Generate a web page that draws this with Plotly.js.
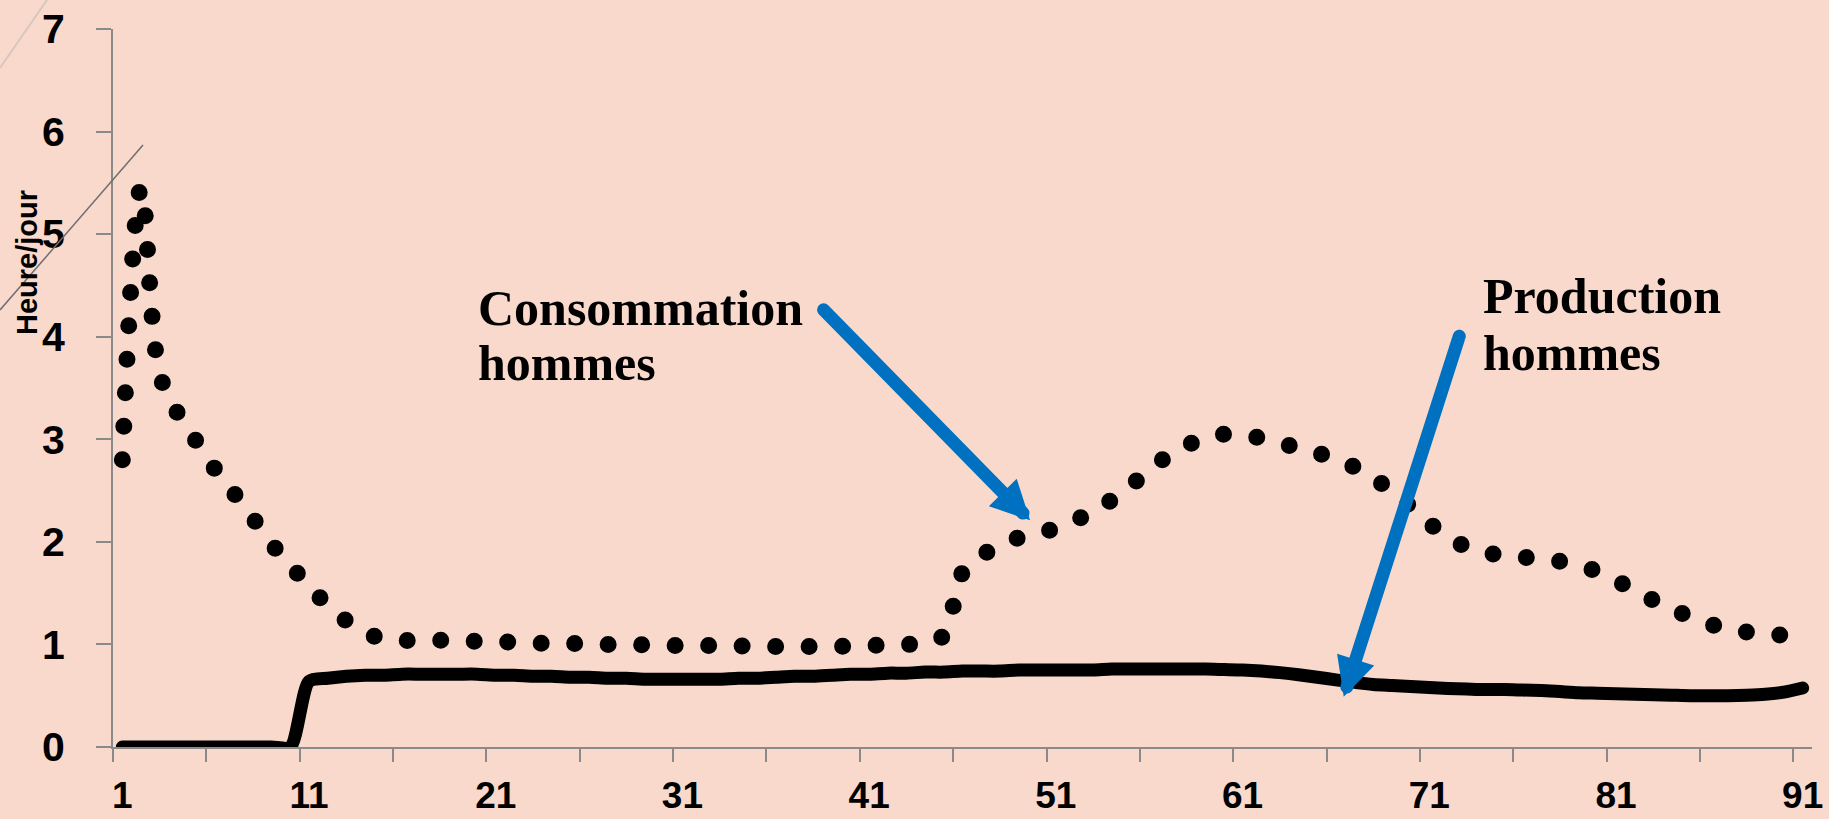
<!DOCTYPE html>
<html>
<head>
<meta charset="utf-8">
<script src="https://cdn.plot.ly/plotly-3.0.1.min.js"></script>
<style>
html, body { margin: 0; padding: 0; background: #F8D9CC; }
#chart { width: 1829px; height: 819px; }
.scatterlayer path.js-line { stroke-linecap: round !important; stroke-linejoin: round !important; }
.annotation-arrow-g path { stroke-linecap: round !important; }
</style>
</head>
<body>
<div id="chart"></div>
<script>
// ---------- data ----------
const categories = [1,2,3,4,5,6,7,8,9,10,11,12,13,14,15,16,17,18,19,20,
  21,22,23,24,25,26,27,28,29,30,31,32,33,34,35,36,37,38,39,40,
  41,42,43,44,45,46,47,48,49,50,51,52,53,54,55,56,57,58,59,60,
  61,62,63,64,65,66,67,68,69,70,71,72,73,74,75,76,77,78,79,80,
  81,82,83,84,85,86,87,88,89,90,91];

const consommationHommes = [2.80,5.45,3.64,3.24,2.97,2.70,2.47,2.23,1.98,1.77,
  1.57,1.38,1.23,1.12,1.05,1.04,1.04,1.04,1.035,1.03,
  1.03,1.02,1.015,1.01,1.01,1.005,1.00,1.00,0.995,0.99,
  0.99,0.99,0.99,0.985,0.98,0.98,0.98,0.98,0.98,0.985,
  0.99,0.995,1.00,1.01,1.09,1.70,1.86,1.97,2.04,2.09,
  2.13,2.21,2.29,2.41,2.55,2.69,2.84,2.94,3.01,3.05,
  3.04,3.01,2.96,2.92,2.87,2.80,2.73,2.62,2.50,2.34,
  2.18,2.05,1.95,1.90,1.86,1.85,1.83,1.81,1.77,1.71,
  1.62,1.54,1.43,1.34,1.27,1.20,1.15,1.12,1.10,1.09,
  1.09];

const productionHommes = [0,0,0,0,0,0,0,0,0,0,
  0.64,0.67,0.69,0.70,0.70,0.71,0.71,0.71,0.71,0.71,
  0.70,0.70,0.69,0.69,0.68,0.68,0.67,0.67,0.66,0.66,
  0.66,0.66,0.66,0.67,0.67,0.68,0.69,0.69,0.70,0.71,
  0.71,0.72,0.72,0.73,0.73,0.74,0.74,0.74,0.75,0.75,
  0.75,0.75,0.75,0.76,0.76,0.76,0.76,0.76,0.76,0.755,
  0.75,0.74,0.725,0.705,0.68,0.655,0.63,0.61,0.60,0.59,
  0.58,0.57,0.565,0.56,0.56,0.555,0.55,0.54,0.53,0.525,
  0.52,0.515,0.51,0.505,0.50,0.50,0.50,0.505,0.515,0.535,
  0.575];

const xTickValues = [1,11,21,31,41,51,61,71,81,91];
const xTickLabels = ['1','11','21','31','41','51','61','71','81','91'];
const yTickValues = [0,1,2,3,4,5,6,7];

const labelConsommation = ['Consommation', 'hommes'];
const labelProduction = ['Production', 'hommes'];
const yAxisLabel = 'Heure/jour';

// ---------- geometry helpers (layout only) ----------
const W = 1829, H = 819;
const mL = 113, mR = 17, mT = 29, mB = 72;
const PW = W - mL - mR, PH = H - mT - mB;
const px2x = px => (px - mL) / PW;
const py2y = py => (H - mB - py) / PH;

const bg = '#F8D9CC';
const axisGray = '#8a8a8a';
const arrowBlue = '#0070C0';

const traces = [
  {
    x: categories, y: productionHommes, type: 'scatter', mode: 'lines',
    name: 'Production hommes',
    line: { color: '#000000', width: 13, shape: 'spline', smoothing: 0.7 },
    hoverinfo: 'x+y'
  },
  {
    x: categories, y: consommationHommes, type: 'scatter', mode: 'lines',
    name: 'Consommation hommes',
    line: { color: '#000000', width: 17, shape: 'spline', smoothing: 1, dash: '0px,33.5px' },
    hoverinfo: 'x+y'
  }
];

const textFont = { family: 'Liberation Serif, serif', size: 50, color: '#000000', weight: 'bold' };

const annotations = [
  // arrows
  { xref: 'x', yref: 'y', x: 49.62, y: 2.21, ax: -208, ay: -212, text: '',
    showarrow: true, arrowhead: 2, arrowsize: 0.6, arrowwidth: 13, arrowcolor: arrowBlue },
  { xref: 'x', yref: 'y', x: 66.42, y: 0.49, ax: 116, ay: -362, text: '',
    showarrow: true, arrowhead: 2, arrowsize: 0.6, arrowwidth: 13, arrowcolor: arrowBlue },
  // labels
  { xref: 'paper', yref: 'paper', x: px2x(476), y: py2y(307.6), xanchor: 'left', yanchor: 'middle',
    text: labelConsommation[0], showarrow: false, font: textFont },
  { xref: 'paper', yref: 'paper', x: px2x(476), y: py2y(363), xanchor: 'left', yanchor: 'middle',
    text: labelConsommation[1], showarrow: false, font: textFont },
  { xref: 'paper', yref: 'paper', x: px2x(1481), y: py2y(296.4), xanchor: 'left', yanchor: 'middle',
    text: labelProduction[0], showarrow: false, font: textFont },
  { xref: 'paper', yref: 'paper', x: px2x(1481), y: py2y(353), xanchor: 'left', yanchor: 'middle',
    text: labelProduction[1], showarrow: false, font: textFont },
  // y axis label
  { xref: 'paper', yref: 'paper', x: px2x(27), y: py2y(263), xanchor: 'center', yanchor: 'middle',
    text: yAxisLabel, textangle: -90, showarrow: false,
    font: { family: 'Liberation Sans, Arial, sans-serif', size: 29, color: '#000000', weight: 'bold' } }
];

const shapes = [
  { type: 'line', xref: 'paper', yref: 'paper', layer: 'above',
    x0: px2x(0), y0: py2y(68), x1: px2x(47), y1: py2y(0),
    line: { color: '#D9C6BE', width: 2 } },
  { type: 'line', xref: 'paper', yref: 'paper', layer: 'above',
    x0: px2x(0), y0: py2y(310), x1: px2x(143), y1: py2y(145),
    line: { color: '#6e6e6e', width: 1.5 } }
];

const layout = {
  width: W, height: H,
  margin: { l: mL, r: mR, t: mT, b: mB, pad: 0 },
  paper_bgcolor: bg, plot_bgcolor: bg,
  showlegend: false,
  xaxis: {
    range: [0.5, 91.5], showgrid: false, zeroline: false,
    showline: true, linecolor: axisGray, linewidth: 2,
    tickmode: 'array', tickvals: xTickValues, ticktext: xTickLabels,
    ticks: '',
    minor: { tick0: 0.5, dtick: 5, ticks: 'outside', ticklen: 13, tickwidth: 2, tickcolor: axisGray, showgrid: false },
    tickfont: { family: 'Liberation Sans, Arial, sans-serif', size: 37, color: '#000000', weight: 'bold' },
    ticklabelstandoff: 15,
    fixedrange: true
  },
  yaxis: {
    range: [0, 7], showgrid: false, zeroline: false,
    showline: true, linecolor: axisGray, linewidth: 2,
    tickmode: 'array', tickvals: yTickValues,
    ticks: 'outside', ticklen: 15, tickwidth: 2, tickcolor: axisGray,
    tickfont: { family: 'Liberation Sans, Arial, sans-serif', size: 41, color: '#000000', weight: 'bold' },
    ticklabelstandoff: 23,
    fixedrange: true
  },
  annotations: annotations,
  shapes: shapes
};

Plotly.newPlot('chart', traces, layout, { staticPlot: true, displayModeBar: false });
</script>
</body>
</html>
